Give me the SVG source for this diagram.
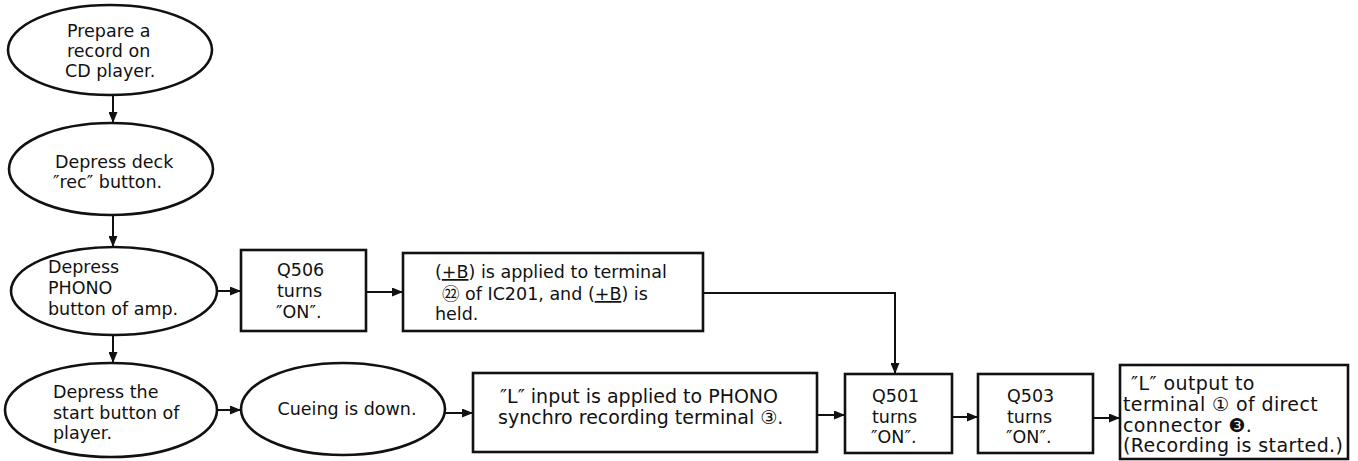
<svg xmlns="http://www.w3.org/2000/svg" width="1358" height="461" viewBox="0 0 1358 461">
<style>
.sh{fill:#fff;stroke:#111;stroke-width:2.6}
.t{font-family:"DejaVu Sans","Noto Sans CJK JP",sans-serif;font-size:17.5px;fill:#111}
.t19{font-size:19px}
.t20{font-size:19px;letter-spacing:0.4px}
.c{fill:none;stroke:#111;stroke-width:2}
.u{text-decoration:underline}
</style>
<defs>
<marker id="ah" viewBox="0 0 11 9" refX="11" refY="4.5" markerWidth="11" markerHeight="9" markerUnits="userSpaceOnUse" orient="auto">
<path d="M0,0 L11,4.5 L0,9 z" fill="#111"/>
</marker>
</defs>
<rect width="1358" height="461" fill="#fff"/>
<g id="connectors">
<path class="c" d="M113,95 V123" marker-end="url(#ah)"/>
<path class="c" d="M113,215 V247" marker-end="url(#ah)"/>
<path class="c" d="M113,335 V363" marker-end="url(#ah)"/>
<path class="c" d="M217,291 H241" marker-end="url(#ah)"/>
<path class="c" d="M366,292 H403" marker-end="url(#ah)"/>
<path class="c" d="M703,293 H895 V374" marker-end="url(#ah)"/>
<path class="c" d="M217,410 H241" marker-end="url(#ah)"/>
<path class="c" d="M445,413 H473" marker-end="url(#ah)"/>
<path class="c" d="M817,415 H845" marker-end="url(#ah)"/>
<path class="c" d="M952,417 H978" marker-end="url(#ah)"/>
<path class="c" d="M1093,418 H1120" marker-end="url(#ah)"/>
</g>
<g id="n1">
<ellipse class="sh" cx="110" cy="50" rx="102" ry="45"/>
<text class="t" x="67" y="37">Prepare a</text>
<text class="t" x="67" y="57">record on</text>
<text class="t" x="65" y="77">CD player.</text>
</g>
<g id="n2">
<ellipse class="sh" cx="111" cy="169" rx="102" ry="46"/>
<text class="t" x="55" y="168">Depress deck</text>
<text class="t" x="53" y="188">″rec″ button.</text>
</g>
<g id="n3">
<ellipse class="sh" cx="114" cy="291" rx="103" ry="44"/>
<text class="t" x="48" y="273">Depress</text>
<text class="t" x="48" y="294">PHONO</text>
<text class="t" x="48" y="315">button of amp.</text>
</g>
<g id="n4">
<ellipse class="sh" cx="111" cy="410" rx="106" ry="47"/>
<text class="t" x="53" y="398">Depress the</text>
<text class="t" x="53" y="419">start button of</text>
<text class="t" x="53" y="439">player.</text>
</g>
<g id="n5">
<rect class="sh" x="241" y="250" width="125" height="81"/>
<text class="t" x="277" y="276">Q506</text>
<text class="t" x="277" y="297">turns</text>
<text class="t" x="276" y="318">″ON″.</text>
</g>
<g id="n6">
<rect class="sh" x="403" y="253" width="300" height="78"/>
<text class="t" x="435" y="278">(<tspan class="u">+B</tspan>) is applied to terminal</text>
<text class="t" x="442" y="300">㉒ of IC201, and (<tspan class="u">+B</tspan>) is</text>
<text class="t" x="435" y="320">held.</text>
</g>
<g id="n7">
<ellipse class="sh" cx="343" cy="409" rx="102" ry="46"/>
<text class="t" x="347" y="415" text-anchor="middle">Cueing is down.</text>
</g>
<g id="n8">
<rect class="sh" x="473" y="373" width="344" height="79"/>
<text class="t t19" x="500" y="403">″L″ input is applied to PHONO</text>
<text class="t t19" x="498" y="424">synchro recording terminal ③.</text>
</g>
<g id="n9">
<rect class="sh" x="845" y="374" width="107" height="79"/>
<text class="t" x="872" y="402">Q501</text>
<text class="t" x="872" y="423">turns</text>
<text class="t" x="871" y="443">″ON″.</text>
</g>
<g id="n10">
<rect class="sh" x="978" y="374" width="115" height="79"/>
<text class="t" x="1007" y="402">Q503</text>
<text class="t" x="1007" y="423">turns</text>
<text class="t" x="1006" y="443">″ON″.</text>
</g>
<g id="n11">
<rect class="sh" x="1120" y="365" width="228" height="94"/>
<text class="t t20" x="1131" y="390">″L″ output to</text>
<text class="t t20" x="1123" y="411">terminal ① of direct</text>
<text class="t t20" x="1123" y="432">connector ❸.</text>
<text class="t t20" x="1123" y="452">(Recording is started.)</text>
</g>
</svg>
